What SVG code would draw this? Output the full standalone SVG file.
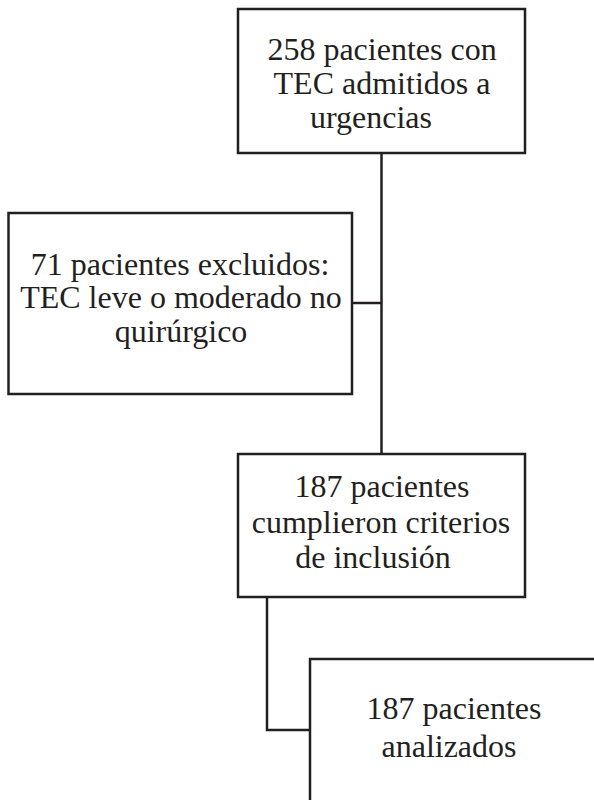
<svg xmlns="http://www.w3.org/2000/svg" width="594" height="800" viewBox="0 0 594 800">
<style>
.box{fill:#fff;stroke:#231f20;stroke-width:2.5}
.con{fill:none;stroke:#231f20;stroke-width:2.5}
text{font-family:"Liberation Serif","Times New Roman",serif;font-size:32px;fill:#231f20;text-anchor:middle}
</style>
<rect width="594" height="800" fill="#fff"/>
<g id="connectors">
<path class="con" d="M381.5 153 V454"/>
<path class="con" d="M352 303 H381.5"/>
<path class="con" d="M267 597 V730 H310"/>
</g>
<g id="n1">
<rect class="box" x="238" y="9" width="287" height="144"/>
<text x="382" y="60">258 pacientes con</text>
<text x="382" y="94">TEC admitidos a</text>
<text x="371" y="128">urgencias</text>
</g>
<g id="n2">
<rect class="box" x="8.5" y="213" width="343.5" height="181"/>
<text x="180" y="274.5">71 pacientes excluidos:</text>
<text x="181" y="308">TEC leve o moderado no</text>
<text x="181" y="341.5">quirúrgico</text>
</g>
<g id="n3">
<rect class="box" x="238" y="454" width="287" height="143"/>
<text x="382" y="497">187 pacientes</text>
<text x="381" y="533">cumplieron criterios</text>
<text x="373" y="568">de inclusión</text>
</g>
<g id="n4">
<rect class="box" x="310" y="659" width="320" height="180"/>
<text x="454" y="719">187 pacientes</text>
<text x="449" y="757">analizados</text>
</g>
</svg>
